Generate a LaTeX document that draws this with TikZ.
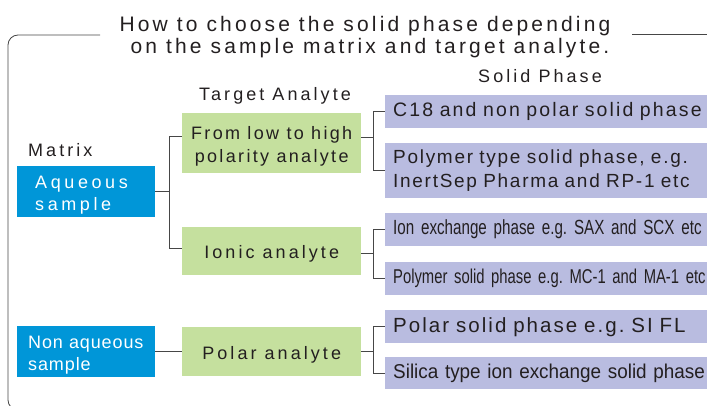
\documentclass[tikz,border=0pt]{standalone}
\usepackage{fontspec}
\setmainfont{Liberation Sans}
\newfontfamily\titlefont[LetterSpace=15]{Liberation Sans}
\newfontfamily\headfont[LetterSpace=17]{Liberation Sans}
\newfontfamily\boxfont[LetterSpace=13]{Liberation Sans}
\newfontfamily\widefont[LetterSpace=20]{Liberation Sans}
\newfontfamily\plainfont[LetterSpace=5]{Liberation Sans}
\newfontfamily\phasefont[LetterSpace=9]{Liberation Sans}
\newfontfamily\cfont[LetterSpace=11]{Liberation Sans}
\newfontfamily\polarfont[LetterSpace=10]{Liberation Sans}
\newfontfamily\narrowfont[FakeStretch=0.74]{Liberation Sans}
\newfontfamily\slimfont[FakeStretch=0.945]{Liberation Sans}
\newcommand\topgap[1]{\rule{0pt}{#1}}
\frenchspacing
\definecolor{matrixblue}{RGB}{0,150,216}
\definecolor{analytegreen}{RGB}{197,224,158}
\definecolor{phasepurple}{RGB}{185,188,224}
\definecolor{linegray}{RGB}{70,70,70}
\definecolor{textdark}{RGB}{35,31,32}
\begin{document}
\begin{tikzpicture}[
            x=1pt, y=-1pt,
            every node/.style={inner sep=0pt, text=textdark},
            label text/.style={font=\headfont\fontsize{18}{22}\selectfont, anchor=base},
            matrixbox/.style={fill=matrixblue, text=white, anchor=north west,
                minimum width=138pt, minimum height=51pt, align=left},
            analytebox/.style={fill=analytegreen, anchor=north west, minimum width=179pt,
                align=center, font=\boxfont\fontsize{18}{23}\selectfont},
            phasebox/.style={fill=phasepurple, anchor=north west, minimum width=356pt,
                text width=340pt, inner xsep=8pt, align=left, minimum height=33pt},
            link/.style={draw=linegray, line width=0.9pt},
            framestyle/.style={draw=linegray, line width=0.8pt}
            ]
            \useasboundingbox (0,0) rectangle (707,406);

            % frame and headings
            \draw[framestyle, rounded corners=10pt] (100,35) -- (8,35) -- (8,410) -- (40,410);
            \draw[framestyle] (632,34) -- (707,34);
            \node[font=\titlefont\fontsize{21}{25}\selectfont, anchor=base] (titleone) at (365,32)
                {How to choose the solid phase depending};
            \node[font=\titlefont\fontsize{21}{25}\selectfont, anchor=base] (titletwo) at (370,54)
                {on the sample matrix and target analyte.};
            \node[label text] (solidlabel) at (540,83) {Solid Phase};
            \node[label text] (targetlabel) at (275,101) {Target Analyte};
            \node[label text, anchor=base west] (matrixlabel) at (28,157) {Matrix};

            % matrix
            \node[matrixbox, inner xsep=18pt, text width=102pt,
                font=\widefont\fontsize{18}{22}\selectfont] (aqueousnode) at (17,166) {\topgap{19pt}Aqueous\\sample};
            \node[matrixbox, inner xsep=11pt, text width=116pt,
                font=\plainfont\fontsize{18}{22}\selectfont] (nonaqueousnode) at (17,326) {\topgap{19pt}Non aqueous\\sample};

            % target analyte
            \node[analytebox, minimum height=60pt] (polaritynode) at (182,113) {\topgap{20pt}From low to high\\polarity analyte};
            \node[analytebox, minimum height=48pt, font=\headfont\fontsize{18}{23}\selectfont] (ionicnode) at (182,227) {\topgap{19pt}Ionic analyte};
            \node[analytebox, minimum height=49pt, font=\headfont\fontsize{18}{23}\selectfont] (polarnode) at (182,327) {\topgap{19pt}Polar analyte};

            % solid phase
            \node[phasebox, font=\cfont\fontsize{19.5}{24}\selectfont] (cnode) at (385,95)
                {C18 and non polar solid phase};
            \node[phasebox, minimum height=55pt, font=\phasefont\fontsize{19}{24}\selectfont] (polytypenode) at (385,143)
                {Polymer type solid phase, e.g.\\InertSep Pharma and RP-1 etc};
            \node[phasebox, font=\narrowfont\fontsize{20.5}{24}\selectfont] (ionexnode) at (385,213)
                {Ion exchange phase e.g. SAX and SCX etc};
            \node[phasebox, font=\narrowfont\fontsize{20}{24}\selectfont] (polysolidnode) at (385,262)
                {Polymer solid phase e.g. MC-1 and MA-1 etc};
            \node[phasebox, font=\polarfont\fontsize{20.5}{24}\selectfont] (polarsolidnode) at (385,310)
                {Polar solid phase e.g. SI FL};
            \node[phasebox, minimum height=32pt, font=\slimfont\fontsize{20}{24}\selectfont] (silicanode) at (385,357)
                {Silica type ion exchange solid phase};

            % connectors
            \draw[link] (aqueousnode.east) -- ++(14,0) |- ([yshift=7pt]polaritynode.west);
            \draw[link] (aqueousnode.east) -- ++(14,0) |- ([yshift=3pt]ionicnode.west);
            \draw[link] (nonaqueousnode.east) -- (nonaqueousnode.east -| polarnode.west);

            \foreach \x in {cnode,polytypenode}{
                \draw[link] ([yshift=6pt]polaritynode.east) -- ++(12,0) |- (\x.west);
            }
            \foreach \x in {ionexnode,polysolidnode}{
                \draw[link] ([yshift=-2pt]ionicnode.east) -- ++(12,0) |- (\x.west);
            }
            \foreach \x in {polarsolidnode,silicanode}{
                \draw[link] (polarnode.east) -- ++(12,0) |- (\x.west);
            }
        \end{tikzpicture}
\end{document}
